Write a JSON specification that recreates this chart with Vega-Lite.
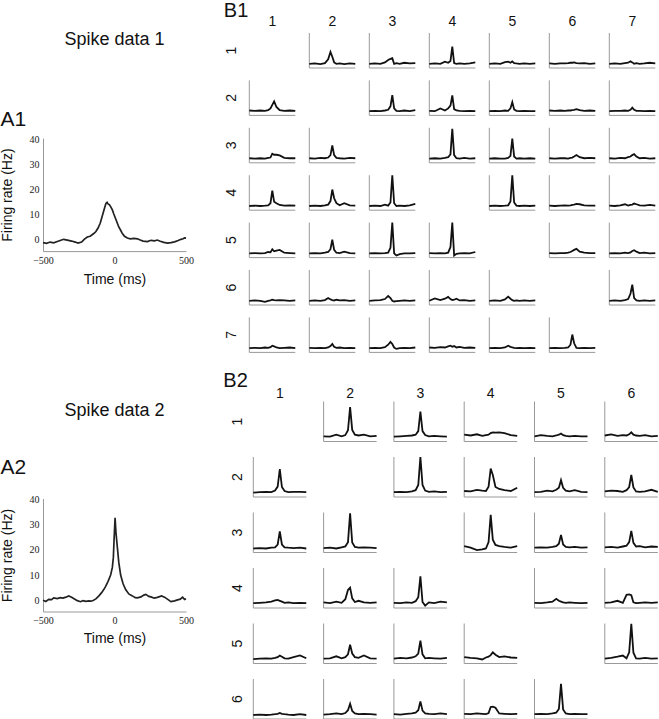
{
"$schema":"https://vega.github.io/schema/vega-lite/v6.json",
"padding":0,
"background":"white",
"config":{"view":{"stroke":null},"font":"Liberation Sans","title":{"fontWeight":"normal","fontSize":20,"color":"#111"},"header":{"labelFont":"Liberation Sans","labelFontSize":14,"labelColor":"#111"}},
"datasets":{
"a1":[{"t":-500,"y":-1.2},{"t":-475,"y":-1.5},{"t":-450,"y":-1.0},{"t":-425,"y":-1.3},{"t":-400,"y":-0.8},{"t":-375,"y":-0.3},{"t":-355,"y":0.1},{"t":-330,"y":-0.2},{"t":-300,"y":-0.6},{"t":-275,"y":-1.0},{"t":-255,"y":-1.4},{"t":-230,"y":-1.0},{"t":-210,"y":0.2},{"t":-190,"y":1.0},{"t":-170,"y":1.3},{"t":-145,"y":2.4},{"t":-130,"y":3.2},{"t":-115,"y":4.6},{"t":-100,"y":6.5},{"t":-90,"y":8.5},{"t":-80,"y":10.5},{"t":-70,"y":12.5},{"t":-60,"y":14.4},{"t":-52,"y":14.8},{"t":-45,"y":14.2},{"t":-35,"y":13.8},{"t":-25,"y":12.9},{"t":-15,"y":11.8},{"t":-5,"y":10.2},{"t":8,"y":8.3},{"t":20,"y":6.5},{"t":30,"y":5.0},{"t":43,"y":3.7},{"t":55,"y":2.4},{"t":70,"y":1.3},{"t":90,"y":0.6},{"t":110,"y":0.3},{"t":137,"y":0.5},{"t":160,"y":0.3},{"t":180,"y":-0.2},{"t":200,"y":-0.6},{"t":230,"y":-0.8},{"t":255,"y":-0.3},{"t":280,"y":-0.5},{"t":300,"y":-0.2},{"t":320,"y":-0.7},{"t":345,"y":-1.1},{"t":371,"y":-1.4},{"t":395,"y":-1.2},{"t":420,"y":-0.9},{"t":445,"y":-0.4},{"t":465,"y":0.1},{"t":480,"y":0.3},{"t":490,"y":0.7},{"t":500,"y":0.6}],
"a2":[{"t":-500,"y":0},{"t":-480,"y":-0.5},{"t":-460,"y":0.3},{"t":-440,"y":0.2},{"t":-425,"y":0.9},{"t":-400,"y":0.6},{"t":-380,"y":1.0},{"t":-360,"y":0.8},{"t":-340,"y":1.2},{"t":-320,"y":1.7},{"t":-300,"y":1.2},{"t":-280,"y":0.5},{"t":-260,"y":-0.2},{"t":-238,"y":-0.6},{"t":-220,"y":-0.2},{"t":-200,"y":-0.5},{"t":-180,"y":-0.3},{"t":-165,"y":-0.4},{"t":-150,"y":-0.1},{"t":-130,"y":0.5},{"t":-109,"y":1.7},{"t":-90,"y":3.0},{"t":-75,"y":4.2},{"t":-62,"y":5.5},{"t":-45,"y":7.5},{"t":-27,"y":10},{"t":-15,"y":13},{"t":-8,"y":17},{"t":-3,"y":24},{"t":4,"y":32.7},{"t":10,"y":27},{"t":20,"y":21},{"t":30,"y":15},{"t":43,"y":10},{"t":60,"y":6.5},{"t":78,"y":4.2},{"t":100,"y":2.5},{"t":125,"y":1.7},{"t":145,"y":1.0},{"t":160,"y":0.9},{"t":185,"y":1.3},{"t":205,"y":2.0},{"t":219,"y":2.3},{"t":240,"y":1.5},{"t":260,"y":1.2},{"t":277,"y":0.8},{"t":300,"y":1.1},{"t":329,"y":1.7},{"t":350,"y":1.2},{"t":375,"y":0.2},{"t":394,"y":-0.6},{"t":420,"y":-0.3},{"t":441,"y":0.1},{"t":460,"y":0.4},{"t":476,"y":1.2},{"t":490,"y":0.3},{"t":500,"y":0.6}],
"b1":[
{"r":1,"c":2,"t":-500,"y":1.2},{"r":1,"c":2,"t":-380,"y":1.3},{"r":1,"c":2,"t":-260,"y":1.1},{"r":1,"c":2,"t":-160,"y":1.4},{"r":1,"c":2,"t":-90,"y":2.5},{"r":1,"c":2,"t":-40,"y":4.6},{"r":1,"c":2,"t":0,"y":3.2},{"r":1,"c":2,"t":40,"y":1.6},{"r":1,"c":2,"t":90,"y":1.2},{"r":1,"c":2,"t":160,"y":1.3},{"r":1,"c":2,"t":260,"y":1.1},{"r":1,"c":2,"t":380,"y":1.3},{"r":1,"c":2,"t":500,"y":1.2},
{"r":1,"c":3,"t":-500,"y":1.2},{"r":1,"c":3,"t":-380,"y":1.3},{"r":1,"c":3,"t":-260,"y":1.2},{"r":1,"c":3,"t":-160,"y":1.6},{"r":1,"c":3,"t":-90,"y":2.3},{"r":1,"c":3,"t":-40,"y":2.6},{"r":1,"c":3,"t":0,"y":2.8},{"r":1,"c":3,"t":40,"y":1.2},{"r":1,"c":3,"t":90,"y":1.4},{"r":1,"c":3,"t":160,"y":1.2},{"r":1,"c":3,"t":260,"y":1.5},{"r":1,"c":3,"t":380,"y":1.3},{"r":1,"c":3,"t":500,"y":1.4},
{"r":1,"c":4,"t":-500,"y":1.2},{"r":1,"c":4,"t":-380,"y":1.3},{"r":1,"c":4,"t":-260,"y":1.2},{"r":1,"c":4,"t":-160,"y":1.8},{"r":1,"c":4,"t":-90,"y":1.5},{"r":1,"c":4,"t":-40,"y":2.0},{"r":1,"c":4,"t":0,"y":6.1},{"r":1,"c":4,"t":40,"y":1.4},{"r":1,"c":4,"t":90,"y":1.2},{"r":1,"c":4,"t":160,"y":1.3},{"r":1,"c":4,"t":260,"y":1.2},{"r":1,"c":4,"t":380,"y":1.3},{"r":1,"c":4,"t":500,"y":1.6},
{"r":1,"c":5,"t":-500,"y":1.2},{"r":1,"c":5,"t":-380,"y":1.3},{"r":1,"c":5,"t":-260,"y":1.2},{"r":1,"c":5,"t":-160,"y":1.7},{"r":1,"c":5,"t":-90,"y":1.8},{"r":1,"c":5,"t":-40,"y":1.5},{"r":1,"c":5,"t":0,"y":1.9},{"r":1,"c":5,"t":40,"y":1.4},{"r":1,"c":5,"t":90,"y":1.3},{"r":1,"c":5,"t":160,"y":1.2},{"r":1,"c":5,"t":260,"y":1.3},{"r":1,"c":5,"t":380,"y":1.2},{"r":1,"c":5,"t":500,"y":1.3},
{"r":1,"c":6,"t":-500,"y":1.3},{"r":1,"c":6,"t":-380,"y":1.2},{"r":1,"c":6,"t":-260,"y":1.3},{"r":1,"c":6,"t":-160,"y":1.3},{"r":1,"c":6,"t":-90,"y":1.4},{"r":1,"c":6,"t":-40,"y":1.5},{"r":1,"c":6,"t":0,"y":1.5},{"r":1,"c":6,"t":40,"y":1.6},{"r":1,"c":6,"t":90,"y":1.4},{"r":1,"c":6,"t":160,"y":1.3},{"r":1,"c":6,"t":260,"y":1.4},{"r":1,"c":6,"t":380,"y":1.2},{"r":1,"c":6,"t":500,"y":1.3},
{"r":1,"c":7,"t":-500,"y":1.2},{"r":1,"c":7,"t":-380,"y":1.3},{"r":1,"c":7,"t":-260,"y":1.2},{"r":1,"c":7,"t":-160,"y":1.4},{"r":1,"c":7,"t":-90,"y":1.5},{"r":1,"c":7,"t":-40,"y":1.9},{"r":1,"c":7,"t":0,"y":1.6},{"r":1,"c":7,"t":40,"y":1.2},{"r":1,"c":7,"t":90,"y":1.4},{"r":1,"c":7,"t":160,"y":1.2},{"r":1,"c":7,"t":260,"y":1.3},{"r":1,"c":7,"t":380,"y":1.5},{"r":1,"c":7,"t":500,"y":1.3},
{"r":2,"c":1,"t":-500,"y":1.4},{"r":2,"c":1,"t":-380,"y":1.3},{"r":2,"c":1,"t":-260,"y":1.4},{"r":2,"c":1,"t":-160,"y":1.3},{"r":2,"c":1,"t":-90,"y":1.5},{"r":2,"c":1,"t":-40,"y":2.0},{"r":2,"c":1,"t":0,"y":3.0},{"r":2,"c":1,"t":40,"y":4.0},{"r":2,"c":1,"t":90,"y":2.4},{"r":2,"c":1,"t":160,"y":1.5},{"r":2,"c":1,"t":260,"y":1.3},{"r":2,"c":1,"t":380,"y":1.4},{"r":2,"c":1,"t":500,"y":1.3},
{"r":2,"c":3,"t":-500,"y":1.2},{"r":2,"c":3,"t":-380,"y":1.3},{"r":2,"c":3,"t":-260,"y":1.2},{"r":2,"c":3,"t":-160,"y":1.4},{"r":2,"c":3,"t":-90,"y":1.6},{"r":2,"c":3,"t":-40,"y":2.6},{"r":2,"c":3,"t":0,"y":5.8},{"r":2,"c":3,"t":40,"y":2.0},{"r":2,"c":3,"t":90,"y":1.3},{"r":2,"c":3,"t":160,"y":1.2},{"r":2,"c":3,"t":260,"y":1.4},{"r":2,"c":3,"t":380,"y":1.2},{"r":2,"c":3,"t":500,"y":1.5},
{"r":2,"c":4,"t":-500,"y":1.3},{"r":2,"c":4,"t":-380,"y":1.2},{"r":2,"c":4,"t":-260,"y":2.0},{"r":2,"c":4,"t":-160,"y":1.4},{"r":2,"c":4,"t":-90,"y":2.0},{"r":2,"c":4,"t":-40,"y":2.8},{"r":2,"c":4,"t":0,"y":5.7},{"r":2,"c":4,"t":40,"y":1.8},{"r":2,"c":4,"t":90,"y":1.4},{"r":2,"c":4,"t":160,"y":1.3},{"r":2,"c":4,"t":260,"y":1.2},{"r":2,"c":4,"t":380,"y":1.3},{"r":2,"c":4,"t":500,"y":1.2},
{"r":2,"c":5,"t":-500,"y":1.2},{"r":2,"c":5,"t":-380,"y":1.3},{"r":2,"c":5,"t":-260,"y":1.2},{"r":2,"c":5,"t":-160,"y":1.4},{"r":2,"c":5,"t":-90,"y":1.3},{"r":2,"c":5,"t":-40,"y":2.0},{"r":2,"c":5,"t":0,"y":3.8},{"r":2,"c":5,"t":40,"y":1.7},{"r":2,"c":5,"t":90,"y":1.3},{"r":2,"c":5,"t":160,"y":1.2},{"r":2,"c":5,"t":260,"y":1.3},{"r":2,"c":5,"t":380,"y":1.2},{"r":2,"c":5,"t":500,"y":1.2},
{"r":2,"c":6,"t":-500,"y":1.4},{"r":2,"c":6,"t":-380,"y":1.3},{"r":2,"c":6,"t":-260,"y":1.4},{"r":2,"c":6,"t":-160,"y":1.3},{"r":2,"c":6,"t":-90,"y":1.4},{"r":2,"c":6,"t":-40,"y":1.4},{"r":2,"c":6,"t":0,"y":1.5},{"r":2,"c":6,"t":40,"y":1.6},{"r":2,"c":6,"t":90,"y":1.8},{"r":2,"c":6,"t":160,"y":1.5},{"r":2,"c":6,"t":260,"y":1.3},{"r":2,"c":6,"t":380,"y":1.4},{"r":2,"c":6,"t":500,"y":1.3},
{"r":2,"c":7,"t":-500,"y":1.2},{"r":2,"c":7,"t":-380,"y":1.3},{"r":2,"c":7,"t":-260,"y":1.3},{"r":2,"c":7,"t":-160,"y":1.4},{"r":2,"c":7,"t":-90,"y":1.3},{"r":2,"c":7,"t":-40,"y":1.6},{"r":2,"c":7,"t":0,"y":2.2},{"r":2,"c":7,"t":40,"y":1.6},{"r":2,"c":7,"t":90,"y":1.3},{"r":2,"c":7,"t":160,"y":1.3},{"r":2,"c":7,"t":260,"y":1.2},{"r":2,"c":7,"t":380,"y":1.3},{"r":2,"c":7,"t":500,"y":1.2},
{"r":3,"c":1,"t":-500,"y":1.3},{"r":3,"c":1,"t":-380,"y":1.2},{"r":3,"c":1,"t":-260,"y":1.3},{"r":3,"c":1,"t":-160,"y":1.2},{"r":3,"c":1,"t":-90,"y":1.4},{"r":3,"c":1,"t":-40,"y":1.5},{"r":3,"c":1,"t":0,"y":2.6},{"r":3,"c":1,"t":40,"y":2.3},{"r":3,"c":1,"t":90,"y":2.3},{"r":3,"c":1,"t":160,"y":2.1},{"r":3,"c":1,"t":260,"y":1.4},{"r":3,"c":1,"t":380,"y":1.3},{"r":3,"c":1,"t":500,"y":1.3},
{"r":3,"c":2,"t":-500,"y":1.3},{"r":3,"c":2,"t":-380,"y":1.2},{"r":3,"c":2,"t":-260,"y":1.4},{"r":3,"c":2,"t":-160,"y":1.3},{"r":3,"c":2,"t":-90,"y":1.5},{"r":3,"c":2,"t":-40,"y":2.2},{"r":3,"c":2,"t":0,"y":5.0},{"r":3,"c":2,"t":40,"y":2.2},{"r":3,"c":2,"t":90,"y":1.4},{"r":3,"c":2,"t":160,"y":1.3},{"r":3,"c":2,"t":260,"y":1.2},{"r":3,"c":2,"t":380,"y":1.4},{"r":3,"c":2,"t":500,"y":1.3},
{"r":3,"c":4,"t":-500,"y":1.2},{"r":3,"c":4,"t":-380,"y":1.3},{"r":3,"c":4,"t":-260,"y":1.2},{"r":3,"c":4,"t":-160,"y":1.4},{"r":3,"c":4,"t":-90,"y":1.6},{"r":3,"c":4,"t":-40,"y":2.4},{"r":3,"c":4,"t":0,"y":9.7},{"r":3,"c":4,"t":40,"y":2.2},{"r":3,"c":4,"t":90,"y":1.3},{"r":3,"c":4,"t":160,"y":1.2},{"r":3,"c":4,"t":260,"y":1.4},{"r":3,"c":4,"t":380,"y":1.2},{"r":3,"c":4,"t":500,"y":1.3},
{"r":3,"c":5,"t":-500,"y":1.2},{"r":3,"c":5,"t":-380,"y":1.3},{"r":3,"c":5,"t":-260,"y":1.2},{"r":3,"c":5,"t":-160,"y":1.2},{"r":3,"c":5,"t":-90,"y":1.4},{"r":3,"c":5,"t":-40,"y":2.0},{"r":3,"c":5,"t":0,"y":6.9},{"r":3,"c":5,"t":40,"y":1.8},{"r":3,"c":5,"t":90,"y":1.2},{"r":3,"c":5,"t":160,"y":1.3},{"r":3,"c":5,"t":260,"y":1.2},{"r":3,"c":5,"t":380,"y":1.3},{"r":3,"c":5,"t":500,"y":1.2},
{"r":3,"c":6,"t":-500,"y":1.3},{"r":3,"c":6,"t":-380,"y":1.2},{"r":3,"c":6,"t":-260,"y":1.3},{"r":3,"c":6,"t":-160,"y":1.3},{"r":3,"c":6,"t":-90,"y":1.2},{"r":3,"c":6,"t":-40,"y":1.4},{"r":3,"c":6,"t":0,"y":1.5},{"r":3,"c":6,"t":40,"y":1.8},{"r":3,"c":6,"t":90,"y":2.2},{"r":3,"c":6,"t":160,"y":1.6},{"r":3,"c":6,"t":260,"y":1.3},{"r":3,"c":6,"t":380,"y":1.4},{"r":3,"c":6,"t":500,"y":1.3},
{"r":3,"c":7,"t":-500,"y":1.3},{"r":3,"c":7,"t":-380,"y":1.2},{"r":3,"c":7,"t":-260,"y":1.4},{"r":3,"c":7,"t":-160,"y":1.3},{"r":3,"c":7,"t":-90,"y":1.6},{"r":3,"c":7,"t":-40,"y":1.8},{"r":3,"c":7,"t":0,"y":2.2},{"r":3,"c":7,"t":40,"y":2.5},{"r":3,"c":7,"t":90,"y":1.8},{"r":3,"c":7,"t":160,"y":1.3},{"r":3,"c":7,"t":260,"y":1.4},{"r":3,"c":7,"t":380,"y":1.2},{"r":3,"c":7,"t":500,"y":1.3},
{"r":4,"c":1,"t":-500,"y":1.2},{"r":4,"c":1,"t":-380,"y":1.3},{"r":4,"c":1,"t":-260,"y":1.2},{"r":4,"c":1,"t":-160,"y":1.3},{"r":4,"c":1,"t":-90,"y":1.4},{"r":4,"c":1,"t":-40,"y":2.0},{"r":4,"c":1,"t":0,"y":5.6},{"r":4,"c":1,"t":40,"y":2.4},{"r":4,"c":1,"t":90,"y":2.0},{"r":4,"c":1,"t":160,"y":1.5},{"r":4,"c":1,"t":260,"y":1.3},{"r":4,"c":1,"t":380,"y":1.4},{"r":4,"c":1,"t":500,"y":1.3},
{"r":4,"c":2,"t":-500,"y":1.2},{"r":4,"c":2,"t":-380,"y":1.3},{"r":4,"c":2,"t":-260,"y":1.2},{"r":4,"c":2,"t":-160,"y":1.4},{"r":4,"c":2,"t":-90,"y":1.6},{"r":4,"c":2,"t":-40,"y":2.6},{"r":4,"c":2,"t":0,"y":5.9},{"r":4,"c":2,"t":40,"y":3.4},{"r":4,"c":2,"t":90,"y":2.0},{"r":4,"c":2,"t":160,"y":1.4},{"r":4,"c":2,"t":260,"y":2.0},{"r":4,"c":2,"t":380,"y":1.4},{"r":4,"c":2,"t":500,"y":1.3},
{"r":4,"c":3,"t":-500,"y":1.2},{"r":4,"c":3,"t":-380,"y":1.3},{"r":4,"c":3,"t":-260,"y":1.2},{"r":4,"c":3,"t":-160,"y":1.6},{"r":4,"c":3,"t":-90,"y":1.3},{"r":4,"c":3,"t":-40,"y":2.2},{"r":4,"c":3,"t":0,"y":10},{"r":4,"c":3,"t":40,"y":2.0},{"r":4,"c":3,"t":90,"y":1.2},{"r":4,"c":3,"t":160,"y":1.3},{"r":4,"c":3,"t":260,"y":1.2},{"r":4,"c":3,"t":380,"y":1.4},{"r":4,"c":3,"t":500,"y":1.8},
{"r":4,"c":5,"t":-500,"y":1.2},{"r":4,"c":5,"t":-380,"y":1.3},{"r":4,"c":5,"t":-260,"y":1.2},{"r":4,"c":5,"t":-160,"y":1.3},{"r":4,"c":5,"t":-90,"y":1.4},{"r":4,"c":5,"t":-40,"y":2.5},{"r":4,"c":5,"t":0,"y":10},{"r":4,"c":5,"t":40,"y":2.2},{"r":4,"c":5,"t":90,"y":1.3},{"r":4,"c":5,"t":160,"y":1.2},{"r":4,"c":5,"t":260,"y":1.3},{"r":4,"c":5,"t":380,"y":1.2},{"r":4,"c":5,"t":500,"y":1.3},
{"r":4,"c":6,"t":-500,"y":1.3},{"r":4,"c":6,"t":-380,"y":1.2},{"r":4,"c":6,"t":-260,"y":1.3},{"r":4,"c":6,"t":-160,"y":1.4},{"r":4,"c":6,"t":-90,"y":1.3},{"r":4,"c":6,"t":-40,"y":1.4},{"r":4,"c":6,"t":0,"y":1.5},{"r":4,"c":6,"t":40,"y":1.6},{"r":4,"c":6,"t":90,"y":1.8},{"r":4,"c":6,"t":160,"y":1.7},{"r":4,"c":6,"t":260,"y":1.4},{"r":4,"c":6,"t":380,"y":1.3},{"r":4,"c":6,"t":500,"y":1.3},
{"r":4,"c":7,"t":-500,"y":1.3},{"r":4,"c":7,"t":-380,"y":1.2},{"r":4,"c":7,"t":-260,"y":1.4},{"r":4,"c":7,"t":-160,"y":1.7},{"r":4,"c":7,"t":-90,"y":1.3},{"r":4,"c":7,"t":-40,"y":1.5},{"r":4,"c":7,"t":0,"y":1.6},{"r":4,"c":7,"t":40,"y":1.9},{"r":4,"c":7,"t":90,"y":1.7},{"r":4,"c":7,"t":160,"y":1.4},{"r":4,"c":7,"t":260,"y":1.3},{"r":4,"c":7,"t":380,"y":1.5},{"r":4,"c":7,"t":500,"y":1.3},
{"r":5,"c":1,"t":-500,"y":1.2},{"r":5,"c":1,"t":-380,"y":1.3},{"r":5,"c":1,"t":-260,"y":1.2},{"r":5,"c":1,"t":-160,"y":1.3},{"r":5,"c":1,"t":-90,"y":1.6},{"r":5,"c":1,"t":-40,"y":1.5},{"r":5,"c":1,"t":0,"y":2.4},{"r":5,"c":1,"t":40,"y":1.8},{"r":5,"c":1,"t":90,"y":2.0},{"r":5,"c":1,"t":160,"y":2.2},{"r":5,"c":1,"t":260,"y":1.4},{"r":5,"c":1,"t":380,"y":1.3},{"r":5,"c":1,"t":500,"y":1.2},
{"r":5,"c":2,"t":-500,"y":1.2},{"r":5,"c":2,"t":-380,"y":1.3},{"r":5,"c":2,"t":-260,"y":1.2},{"r":5,"c":2,"t":-160,"y":1.4},{"r":5,"c":2,"t":-90,"y":1.6},{"r":5,"c":2,"t":-40,"y":2.4},{"r":5,"c":2,"t":0,"y":5.1},{"r":5,"c":2,"t":40,"y":2.2},{"r":5,"c":2,"t":90,"y":1.4},{"r":5,"c":2,"t":160,"y":1.3},{"r":5,"c":2,"t":260,"y":1.7},{"r":5,"c":2,"t":380,"y":1.3},{"r":5,"c":2,"t":500,"y":1.2},
{"r":5,"c":3,"t":-500,"y":1.2},{"r":5,"c":3,"t":-380,"y":1.3},{"r":5,"c":3,"t":-260,"y":1.2},{"r":5,"c":3,"t":-160,"y":1.3},{"r":5,"c":3,"t":-90,"y":1.4},{"r":5,"c":3,"t":-40,"y":2.8},{"r":5,"c":3,"t":0,"y":10},{"r":5,"c":3,"t":40,"y":1.2},{"r":5,"c":3,"t":90,"y":0.6},{"r":5,"c":3,"t":160,"y":1.0},{"r":5,"c":3,"t":260,"y":1.2},{"r":5,"c":3,"t":380,"y":1.2},{"r":5,"c":3,"t":500,"y":1.3},
{"r":5,"c":4,"t":-500,"y":1.3},{"r":5,"c":4,"t":-380,"y":1.2},{"r":5,"c":4,"t":-260,"y":1.3},{"r":5,"c":4,"t":-160,"y":1.2},{"r":5,"c":4,"t":-90,"y":1.4},{"r":5,"c":4,"t":-40,"y":3.0},{"r":5,"c":4,"t":0,"y":10},{"r":5,"c":4,"t":40,"y":0.6},{"r":5,"c":4,"t":90,"y":1.1},{"r":5,"c":4,"t":160,"y":1.2},{"r":5,"c":4,"t":260,"y":1.3},{"r":5,"c":4,"t":380,"y":1.2},{"r":5,"c":4,"t":500,"y":1.6},
{"r":5,"c":6,"t":-500,"y":1.3},{"r":5,"c":6,"t":-380,"y":1.2},{"r":5,"c":6,"t":-260,"y":1.3},{"r":5,"c":6,"t":-160,"y":1.3},{"r":5,"c":6,"t":-90,"y":1.4},{"r":5,"c":6,"t":-40,"y":1.6},{"r":5,"c":6,"t":0,"y":1.9},{"r":5,"c":6,"t":40,"y":2.2},{"r":5,"c":6,"t":90,"y":2.5},{"r":5,"c":6,"t":160,"y":1.7},{"r":5,"c":6,"t":260,"y":1.4},{"r":5,"c":6,"t":380,"y":1.3},{"r":5,"c":6,"t":500,"y":1.3},
{"r":5,"c":7,"t":-500,"y":1.2},{"r":5,"c":7,"t":-380,"y":1.3},{"r":5,"c":7,"t":-260,"y":1.2},{"r":5,"c":7,"t":-160,"y":1.4},{"r":5,"c":7,"t":-90,"y":1.3},{"r":5,"c":7,"t":-40,"y":1.5},{"r":5,"c":7,"t":0,"y":1.9},{"r":5,"c":7,"t":40,"y":2.1},{"r":5,"c":7,"t":90,"y":1.7},{"r":5,"c":7,"t":160,"y":1.3},{"r":5,"c":7,"t":260,"y":1.4},{"r":5,"c":7,"t":380,"y":1.2},{"r":5,"c":7,"t":500,"y":1.3},
{"r":6,"c":1,"t":-500,"y":1.2},{"r":6,"c":1,"t":-380,"y":1.3},{"r":6,"c":1,"t":-260,"y":1.2},{"r":6,"c":1,"t":-160,"y":0.9},{"r":6,"c":1,"t":-90,"y":1.2},{"r":6,"c":1,"t":-40,"y":1.3},{"r":6,"c":1,"t":0,"y":1.5},{"r":6,"c":1,"t":40,"y":1.4},{"r":6,"c":1,"t":90,"y":1.3},{"r":6,"c":1,"t":160,"y":1.4},{"r":6,"c":1,"t":260,"y":1.3},{"r":6,"c":1,"t":380,"y":1.2},{"r":6,"c":1,"t":500,"y":1.3},
{"r":6,"c":2,"t":-500,"y":1.2},{"r":6,"c":2,"t":-380,"y":1.3},{"r":6,"c":2,"t":-260,"y":1.2},{"r":6,"c":2,"t":-160,"y":1.4},{"r":6,"c":2,"t":-90,"y":2.0},{"r":6,"c":2,"t":-40,"y":1.6},{"r":6,"c":2,"t":0,"y":1.4},{"r":6,"c":2,"t":40,"y":1.3},{"r":6,"c":2,"t":90,"y":1.5},{"r":6,"c":2,"t":160,"y":1.3},{"r":6,"c":2,"t":260,"y":1.4},{"r":6,"c":2,"t":380,"y":1.2},{"r":6,"c":2,"t":500,"y":1.3},
{"r":6,"c":3,"t":-500,"y":1.2},{"r":6,"c":3,"t":-380,"y":1.3},{"r":6,"c":3,"t":-260,"y":1.4},{"r":6,"c":3,"t":-160,"y":1.7},{"r":6,"c":3,"t":-90,"y":2.6},{"r":6,"c":3,"t":-40,"y":2.0},{"r":6,"c":3,"t":0,"y":1.2},{"r":6,"c":3,"t":40,"y":1.0},{"r":6,"c":3,"t":90,"y":1.1},{"r":6,"c":3,"t":160,"y":1.2},{"r":6,"c":3,"t":260,"y":1.3},{"r":6,"c":3,"t":380,"y":1.2},{"r":6,"c":3,"t":500,"y":1.3},
{"r":6,"c":4,"t":-500,"y":1.2},{"r":6,"c":4,"t":-380,"y":1.9},{"r":6,"c":4,"t":-260,"y":1.4},{"r":6,"c":4,"t":-160,"y":1.8},{"r":6,"c":4,"t":-90,"y":2.3},{"r":6,"c":4,"t":-40,"y":1.7},{"r":6,"c":4,"t":0,"y":1.4},{"r":6,"c":4,"t":40,"y":1.5},{"r":6,"c":4,"t":90,"y":1.8},{"r":6,"c":4,"t":160,"y":1.3},{"r":6,"c":4,"t":260,"y":1.4},{"r":6,"c":4,"t":380,"y":1.2},{"r":6,"c":4,"t":500,"y":1.3},
{"r":6,"c":5,"t":-500,"y":1.2},{"r":6,"c":5,"t":-380,"y":1.3},{"r":6,"c":5,"t":-260,"y":1.2},{"r":6,"c":5,"t":-160,"y":1.6},{"r":6,"c":5,"t":-90,"y":2.4},{"r":6,"c":5,"t":-40,"y":1.8},{"r":6,"c":5,"t":0,"y":1.4},{"r":6,"c":5,"t":40,"y":1.2},{"r":6,"c":5,"t":90,"y":1.3},{"r":6,"c":5,"t":160,"y":1.2},{"r":6,"c":5,"t":260,"y":1.3},{"r":6,"c":5,"t":380,"y":1.2},{"r":6,"c":5,"t":500,"y":1.3},
{"r":6,"c":7,"t":-500,"y":1.2},{"r":6,"c":7,"t":-380,"y":1.3},{"r":6,"c":7,"t":-260,"y":1.2},{"r":6,"c":7,"t":-160,"y":1.4},{"r":6,"c":7,"t":-90,"y":1.7},{"r":6,"c":7,"t":-40,"y":3.2},{"r":6,"c":7,"t":0,"y":5.8},{"r":6,"c":7,"t":40,"y":2.0},{"r":6,"c":7,"t":90,"y":1.3},{"r":6,"c":7,"t":160,"y":1.2},{"r":6,"c":7,"t":260,"y":1.3},{"r":6,"c":7,"t":380,"y":1.2},{"r":6,"c":7,"t":500,"y":1.3},
{"r":7,"c":1,"t":-500,"y":1.2},{"r":7,"c":1,"t":-380,"y":1.3},{"r":7,"c":1,"t":-260,"y":1.2},{"r":7,"c":1,"t":-160,"y":1.4},{"r":7,"c":1,"t":-90,"y":1.3},{"r":7,"c":1,"t":-40,"y":1.5},{"r":7,"c":1,"t":0,"y":1.9},{"r":7,"c":1,"t":40,"y":1.7},{"r":7,"c":1,"t":90,"y":1.4},{"r":7,"c":1,"t":160,"y":1.2},{"r":7,"c":1,"t":260,"y":1.3},{"r":7,"c":1,"t":380,"y":1.4},{"r":7,"c":1,"t":500,"y":1.2},
{"r":7,"c":2,"t":-500,"y":1.3},{"r":7,"c":2,"t":-380,"y":1.2},{"r":7,"c":2,"t":-260,"y":1.3},{"r":7,"c":2,"t":-160,"y":1.2},{"r":7,"c":2,"t":-90,"y":1.4},{"r":7,"c":2,"t":-40,"y":1.8},{"r":7,"c":2,"t":0,"y":2.4},{"r":7,"c":2,"t":40,"y":1.6},{"r":7,"c":2,"t":90,"y":1.3},{"r":7,"c":2,"t":160,"y":1.4},{"r":7,"c":2,"t":260,"y":1.2},{"r":7,"c":2,"t":380,"y":1.3},{"r":7,"c":2,"t":500,"y":1.2},
{"r":7,"c":3,"t":-500,"y":1.2},{"r":7,"c":3,"t":-380,"y":1.3},{"r":7,"c":3,"t":-260,"y":1.2},{"r":7,"c":3,"t":-160,"y":1.5},{"r":7,"c":3,"t":-90,"y":2.2},{"r":7,"c":3,"t":-40,"y":3.0},{"r":7,"c":3,"t":0,"y":2.4},{"r":7,"c":3,"t":40,"y":1.4},{"r":7,"c":3,"t":90,"y":1.0},{"r":7,"c":3,"t":160,"y":1.2},{"r":7,"c":3,"t":260,"y":1.3},{"r":7,"c":3,"t":380,"y":1.2},{"r":7,"c":3,"t":500,"y":1.4},
{"r":7,"c":4,"t":-500,"y":1.4},{"r":7,"c":4,"t":-380,"y":1.3},{"r":7,"c":4,"t":-260,"y":1.5},{"r":7,"c":4,"t":-160,"y":1.4},{"r":7,"c":4,"t":-90,"y":1.7},{"r":7,"c":4,"t":-40,"y":1.9},{"r":7,"c":4,"t":0,"y":1.6},{"r":7,"c":4,"t":40,"y":1.8},{"r":7,"c":4,"t":90,"y":1.4},{"r":7,"c":4,"t":160,"y":1.6},{"r":7,"c":4,"t":260,"y":1.3},{"r":7,"c":4,"t":380,"y":1.4},{"r":7,"c":4,"t":500,"y":1.3},
{"r":7,"c":5,"t":-500,"y":1.2},{"r":7,"c":5,"t":-380,"y":1.3},{"r":7,"c":5,"t":-260,"y":1.2},{"r":7,"c":5,"t":-160,"y":1.4},{"r":7,"c":5,"t":-90,"y":1.9},{"r":7,"c":5,"t":-40,"y":1.6},{"r":7,"c":5,"t":0,"y":1.4},{"r":7,"c":5,"t":40,"y":1.3},{"r":7,"c":5,"t":90,"y":1.2},{"r":7,"c":5,"t":160,"y":1.3},{"r":7,"c":5,"t":260,"y":1.2},{"r":7,"c":5,"t":380,"y":1.3},{"r":7,"c":5,"t":500,"y":1.2},
{"r":7,"c":6,"t":-500,"y":1.2},{"r":7,"c":6,"t":-380,"y":1.3},{"r":7,"c":6,"t":-260,"y":1.2},{"r":7,"c":6,"t":-160,"y":1.3},{"r":7,"c":6,"t":-90,"y":1.4},{"r":7,"c":6,"t":-40,"y":2.2},{"r":7,"c":6,"t":0,"y":5.1},{"r":7,"c":6,"t":40,"y":2.6},{"r":7,"c":6,"t":90,"y":1.3},{"r":7,"c":6,"t":160,"y":1.2},{"r":7,"c":6,"t":260,"y":1.3},{"r":7,"c":6,"t":380,"y":1.2},{"r":7,"c":6,"t":500,"y":1.3}
],
"b2":[
{"r":1,"c":2,"t":-500,"y":1.3},{"r":1,"c":2,"t":-380,"y":1.2},{"r":1,"c":2,"t":-260,"y":1.7},{"r":1,"c":2,"t":-160,"y":1.3},{"r":1,"c":2,"t":-90,"y":1.6},{"r":1,"c":2,"t":-40,"y":2.8},{"r":1,"c":2,"t":0,"y":8.6},{"r":1,"c":2,"t":40,"y":2.9},{"r":1,"c":2,"t":90,"y":1.7},{"r":1,"c":2,"t":160,"y":1.5},{"r":1,"c":2,"t":260,"y":1.7},{"r":1,"c":2,"t":380,"y":1.3},{"r":1,"c":2,"t":500,"y":1.4},
{"r":1,"c":3,"t":-500,"y":1.2},{"r":1,"c":3,"t":-380,"y":1.3},{"r":1,"c":3,"t":-260,"y":1.4},{"r":1,"c":3,"t":-160,"y":1.5},{"r":1,"c":3,"t":-90,"y":1.7},{"r":1,"c":3,"t":-40,"y":2.6},{"r":1,"c":3,"t":0,"y":7.5},{"r":1,"c":3,"t":40,"y":2.6},{"r":1,"c":3,"t":90,"y":1.6},{"r":1,"c":3,"t":160,"y":1.3},{"r":1,"c":3,"t":260,"y":1.4},{"r":1,"c":3,"t":380,"y":1.3},{"r":1,"c":3,"t":500,"y":1.2},
{"r":1,"c":4,"t":-500,"y":1.7},{"r":1,"c":4,"t":-380,"y":1.5},{"r":1,"c":4,"t":-260,"y":1.8},{"r":1,"c":4,"t":-160,"y":1.4},{"r":1,"c":4,"t":-90,"y":1.6},{"r":1,"c":4,"t":-40,"y":1.7},{"r":1,"c":4,"t":0,"y":2.1},{"r":1,"c":4,"t":40,"y":2.3},{"r":1,"c":4,"t":90,"y":2.2},{"r":1,"c":4,"t":160,"y":2.3},{"r":1,"c":4,"t":260,"y":2.1},{"r":1,"c":4,"t":380,"y":1.6},{"r":1,"c":4,"t":500,"y":1.4},
{"r":1,"c":5,"t":-500,"y":1.3},{"r":1,"c":5,"t":-380,"y":1.6},{"r":1,"c":5,"t":-260,"y":1.4},{"r":1,"c":5,"t":-160,"y":1.3},{"r":1,"c":5,"t":-90,"y":1.5},{"r":1,"c":5,"t":-40,"y":1.7},{"r":1,"c":5,"t":0,"y":2.0},{"r":1,"c":5,"t":40,"y":1.6},{"r":1,"c":5,"t":90,"y":1.4},{"r":1,"c":5,"t":160,"y":1.3},{"r":1,"c":5,"t":260,"y":1.4},{"r":1,"c":5,"t":380,"y":1.3},{"r":1,"c":5,"t":500,"y":1.3},
{"r":1,"c":6,"t":-500,"y":1.5},{"r":1,"c":6,"t":-380,"y":1.8},{"r":1,"c":6,"t":-260,"y":1.4},{"r":1,"c":6,"t":-160,"y":1.6},{"r":1,"c":6,"t":-90,"y":1.5},{"r":1,"c":6,"t":-40,"y":1.8},{"r":1,"c":6,"t":0,"y":2.3},{"r":1,"c":6,"t":40,"y":1.7},{"r":1,"c":6,"t":90,"y":1.5},{"r":1,"c":6,"t":160,"y":1.4},{"r":1,"c":6,"t":260,"y":1.6},{"r":1,"c":6,"t":380,"y":1.3},{"r":1,"c":6,"t":500,"y":1.4},
{"r":2,"c":1,"t":-500,"y":1.1},{"r":2,"c":1,"t":-380,"y":1.2},{"r":2,"c":1,"t":-260,"y":1.3},{"r":2,"c":1,"t":-160,"y":1.2},{"r":2,"c":1,"t":-90,"y":1.6},{"r":2,"c":1,"t":-40,"y":2.6},{"r":2,"c":1,"t":0,"y":7.0},{"r":2,"c":1,"t":40,"y":2.5},{"r":2,"c":1,"t":90,"y":1.5},{"r":2,"c":1,"t":160,"y":1.2},{"r":2,"c":1,"t":260,"y":1.3},{"r":2,"c":1,"t":380,"y":1.3},{"r":2,"c":1,"t":500,"y":1.2},
{"r":2,"c":3,"t":-500,"y":1.2},{"r":2,"c":3,"t":-380,"y":1.3},{"r":2,"c":3,"t":-260,"y":1.2},{"r":2,"c":3,"t":-160,"y":1.4},{"r":2,"c":3,"t":-90,"y":1.7},{"r":2,"c":3,"t":-40,"y":3.0},{"r":2,"c":3,"t":0,"y":10},{"r":2,"c":3,"t":40,"y":3.0},{"r":2,"c":3,"t":90,"y":1.6},{"r":2,"c":3,"t":160,"y":1.3},{"r":2,"c":3,"t":260,"y":1.4},{"r":2,"c":3,"t":380,"y":1.2},{"r":2,"c":3,"t":500,"y":1.3},
{"r":2,"c":4,"t":-500,"y":1.5},{"r":2,"c":4,"t":-380,"y":1.4},{"r":2,"c":4,"t":-260,"y":1.8},{"r":2,"c":4,"t":-160,"y":1.6},{"r":2,"c":4,"t":-90,"y":1.5},{"r":2,"c":4,"t":-40,"y":2.6},{"r":2,"c":4,"t":0,"y":7.1},{"r":2,"c":4,"t":40,"y":5.5},{"r":2,"c":4,"t":90,"y":2.5},{"r":2,"c":4,"t":160,"y":2.0},{"r":2,"c":4,"t":260,"y":1.7},{"r":2,"c":4,"t":380,"y":1.5},{"r":2,"c":4,"t":500,"y":2.3},
{"r":2,"c":5,"t":-500,"y":1.2},{"r":2,"c":5,"t":-380,"y":1.3},{"r":2,"c":5,"t":-260,"y":1.6},{"r":2,"c":5,"t":-160,"y":1.4},{"r":2,"c":5,"t":-90,"y":1.8},{"r":2,"c":5,"t":-40,"y":2.3},{"r":2,"c":5,"t":0,"y":4.2},{"r":2,"c":5,"t":40,"y":2.3},{"r":2,"c":5,"t":90,"y":1.6},{"r":2,"c":5,"t":160,"y":1.4},{"r":2,"c":5,"t":260,"y":1.7},{"r":2,"c":5,"t":380,"y":1.3},{"r":2,"c":5,"t":500,"y":1.2},
{"r":2,"c":6,"t":-500,"y":1.4},{"r":2,"c":6,"t":-380,"y":1.6},{"r":2,"c":6,"t":-260,"y":1.5},{"r":2,"c":6,"t":-160,"y":1.3},{"r":2,"c":6,"t":-90,"y":1.7},{"r":2,"c":6,"t":-40,"y":2.5},{"r":2,"c":6,"t":0,"y":5.5},{"r":2,"c":6,"t":40,"y":2.4},{"r":2,"c":6,"t":90,"y":1.4},{"r":2,"c":6,"t":160,"y":1.3},{"r":2,"c":6,"t":260,"y":1.4},{"r":2,"c":6,"t":380,"y":1.8},{"r":2,"c":6,"t":500,"y":1.3},
{"r":3,"c":1,"t":-500,"y":1.0},{"r":3,"c":1,"t":-380,"y":1.1},{"r":3,"c":1,"t":-260,"y":1.0},{"r":3,"c":1,"t":-160,"y":1.2},{"r":3,"c":1,"t":-90,"y":1.3},{"r":3,"c":1,"t":-40,"y":2.0},{"r":3,"c":1,"t":0,"y":5.3},{"r":3,"c":1,"t":40,"y":2.0},{"r":3,"c":1,"t":90,"y":1.3},{"r":3,"c":1,"t":160,"y":1.2},{"r":3,"c":1,"t":260,"y":1.1},{"r":3,"c":1,"t":380,"y":1.2},{"r":3,"c":1,"t":500,"y":1.0},
{"r":3,"c":2,"t":-500,"y":1.1},{"r":3,"c":2,"t":-380,"y":1.2},{"r":3,"c":2,"t":-260,"y":1.0},{"r":3,"c":2,"t":-160,"y":1.3},{"r":3,"c":2,"t":-90,"y":1.5},{"r":3,"c":2,"t":-40,"y":2.6},{"r":3,"c":2,"t":0,"y":9.8},{"r":3,"c":2,"t":40,"y":2.5},{"r":3,"c":2,"t":90,"y":1.4},{"r":3,"c":2,"t":160,"y":1.2},{"r":3,"c":2,"t":260,"y":1.3},{"r":3,"c":2,"t":380,"y":1.2},{"r":3,"c":2,"t":500,"y":1.1},
{"r":3,"c":4,"t":-500,"y":1.6},{"r":3,"c":4,"t":-380,"y":1.2},{"r":3,"c":4,"t":-260,"y":0.6},{"r":3,"c":4,"t":-160,"y":0.8},{"r":3,"c":4,"t":-90,"y":1.0},{"r":3,"c":4,"t":-40,"y":2.6},{"r":3,"c":4,"t":0,"y":9.4},{"r":3,"c":4,"t":40,"y":3.2},{"r":3,"c":4,"t":90,"y":1.9},{"r":3,"c":4,"t":160,"y":1.6},{"r":3,"c":4,"t":260,"y":1.4},{"r":3,"c":4,"t":380,"y":1.2},{"r":3,"c":4,"t":500,"y":1.6},
{"r":3,"c":5,"t":-500,"y":1.2},{"r":3,"c":5,"t":-380,"y":1.3},{"r":3,"c":5,"t":-260,"y":1.2},{"r":3,"c":5,"t":-160,"y":1.4},{"r":3,"c":5,"t":-90,"y":1.6},{"r":3,"c":5,"t":-40,"y":2.2},{"r":3,"c":5,"t":0,"y":4.4},{"r":3,"c":5,"t":40,"y":2.0},{"r":3,"c":5,"t":90,"y":1.4},{"r":3,"c":5,"t":160,"y":1.3},{"r":3,"c":5,"t":260,"y":1.4},{"r":3,"c":5,"t":380,"y":1.2},{"r":3,"c":5,"t":500,"y":1.3},
{"r":3,"c":6,"t":-500,"y":1.3},{"r":3,"c":6,"t":-380,"y":1.4},{"r":3,"c":6,"t":-260,"y":1.2},{"r":3,"c":6,"t":-160,"y":1.5},{"r":3,"c":6,"t":-90,"y":1.7},{"r":3,"c":6,"t":-40,"y":2.6},{"r":3,"c":6,"t":0,"y":5.4},{"r":3,"c":6,"t":40,"y":2.4},{"r":3,"c":6,"t":90,"y":1.5},{"r":3,"c":6,"t":160,"y":1.6},{"r":3,"c":6,"t":260,"y":1.3},{"r":3,"c":6,"t":380,"y":1.5},{"r":3,"c":6,"t":500,"y":1.4},
{"r":4,"c":1,"t":-500,"y":1.2},{"r":4,"c":1,"t":-380,"y":1.3},{"r":4,"c":1,"t":-260,"y":1.4},{"r":4,"c":1,"t":-160,"y":1.6},{"r":4,"c":1,"t":-90,"y":1.9},{"r":4,"c":1,"t":-40,"y":2.0},{"r":4,"c":1,"t":0,"y":1.8},{"r":4,"c":1,"t":40,"y":1.6},{"r":4,"c":1,"t":90,"y":1.3},{"r":4,"c":1,"t":160,"y":1.4},{"r":4,"c":1,"t":260,"y":1.2},{"r":4,"c":1,"t":380,"y":1.3},{"r":4,"c":1,"t":500,"y":1.2},
{"r":4,"c":2,"t":-500,"y":1.4},{"r":4,"c":2,"t":-380,"y":1.2},{"r":4,"c":2,"t":-260,"y":1.6},{"r":4,"c":2,"t":-160,"y":1.3},{"r":4,"c":2,"t":-90,"y":2.2},{"r":4,"c":2,"t":-40,"y":4.5},{"r":4,"c":2,"t":0,"y":5.1},{"r":4,"c":2,"t":40,"y":2.4},{"r":4,"c":2,"t":90,"y":1.5},{"r":4,"c":2,"t":160,"y":1.8},{"r":4,"c":2,"t":260,"y":1.4},{"r":4,"c":2,"t":380,"y":1.3},{"r":4,"c":2,"t":500,"y":1.4},
{"r":4,"c":3,"t":-500,"y":1.3},{"r":4,"c":3,"t":-380,"y":1.2},{"r":4,"c":3,"t":-260,"y":1.4},{"r":4,"c":3,"t":-160,"y":1.3},{"r":4,"c":3,"t":-90,"y":1.7},{"r":4,"c":3,"t":-40,"y":2.7},{"r":4,"c":3,"t":0,"y":7.9},{"r":4,"c":3,"t":40,"y":1.5},{"r":4,"c":3,"t":90,"y":0.6},{"r":4,"c":3,"t":160,"y":1.4},{"r":4,"c":3,"t":260,"y":1.2},{"r":4,"c":3,"t":380,"y":1.6},{"r":4,"c":3,"t":500,"y":1.4},
{"r":4,"c":5,"t":-500,"y":1.3},{"r":4,"c":5,"t":-380,"y":1.2},{"r":4,"c":5,"t":-260,"y":1.4},{"r":4,"c":5,"t":-160,"y":1.6},{"r":4,"c":5,"t":-90,"y":2.3},{"r":4,"c":5,"t":-40,"y":1.8},{"r":4,"c":5,"t":0,"y":1.6},{"r":4,"c":5,"t":40,"y":1.4},{"r":4,"c":5,"t":90,"y":1.3},{"r":4,"c":5,"t":160,"y":1.4},{"r":4,"c":5,"t":260,"y":1.3},{"r":4,"c":5,"t":380,"y":1.2},{"r":4,"c":5,"t":500,"y":1.3},
{"r":4,"c":6,"t":-500,"y":1.3},{"r":4,"c":6,"t":-380,"y":1.4},{"r":4,"c":6,"t":-260,"y":1.8},{"r":4,"c":6,"t":-160,"y":1.3},{"r":4,"c":6,"t":-90,"y":3.3},{"r":4,"c":6,"t":-40,"y":3.4},{"r":4,"c":6,"t":0,"y":3.2},{"r":4,"c":6,"t":40,"y":1.4},{"r":4,"c":6,"t":90,"y":1.2},{"r":4,"c":6,"t":160,"y":1.3},{"r":4,"c":6,"t":260,"y":1.4},{"r":4,"c":6,"t":380,"y":1.3},{"r":4,"c":6,"t":500,"y":1.4},
{"r":5,"c":1,"t":-500,"y":1.1},{"r":5,"c":1,"t":-380,"y":1.2},{"r":5,"c":1,"t":-260,"y":1.3},{"r":5,"c":1,"t":-160,"y":1.2},{"r":5,"c":1,"t":-90,"y":1.4},{"r":5,"c":1,"t":-40,"y":1.6},{"r":5,"c":1,"t":0,"y":2.0},{"r":5,"c":1,"t":40,"y":1.7},{"r":5,"c":1,"t":90,"y":1.3},{"r":5,"c":1,"t":160,"y":1.2},{"r":5,"c":1,"t":260,"y":1.6},{"r":5,"c":1,"t":380,"y":2.0},{"r":5,"c":1,"t":500,"y":1.3},
{"r":5,"c":2,"t":-500,"y":1.2},{"r":5,"c":2,"t":-380,"y":1.3},{"r":5,"c":2,"t":-260,"y":1.8},{"r":5,"c":2,"t":-160,"y":1.3},{"r":5,"c":2,"t":-90,"y":1.6},{"r":5,"c":2,"t":-40,"y":2.3},{"r":5,"c":2,"t":0,"y":4.7},{"r":5,"c":2,"t":40,"y":2.5},{"r":5,"c":2,"t":90,"y":1.6},{"r":5,"c":2,"t":160,"y":1.4},{"r":5,"c":2,"t":260,"y":2.0},{"r":5,"c":2,"t":380,"y":1.3},{"r":5,"c":2,"t":500,"y":1.2},
{"r":5,"c":3,"t":-500,"y":1.2},{"r":5,"c":3,"t":-380,"y":1.4},{"r":5,"c":3,"t":-260,"y":1.3},{"r":5,"c":3,"t":-160,"y":1.5},{"r":5,"c":3,"t":-90,"y":1.8},{"r":5,"c":3,"t":-40,"y":2.5},{"r":5,"c":3,"t":0,"y":5.7},{"r":5,"c":3,"t":40,"y":2.3},{"r":5,"c":3,"t":90,"y":1.3},{"r":5,"c":3,"t":160,"y":1.4},{"r":5,"c":3,"t":260,"y":1.3},{"r":5,"c":3,"t":380,"y":1.2},{"r":5,"c":3,"t":500,"y":1.4},
{"r":5,"c":4,"t":-500,"y":1.6},{"r":5,"c":4,"t":-380,"y":1.4},{"r":5,"c":4,"t":-260,"y":1.3},{"r":5,"c":4,"t":-160,"y":1.0},{"r":5,"c":4,"t":-90,"y":1.5},{"r":5,"c":4,"t":-40,"y":1.7},{"r":5,"c":4,"t":0,"y":2.1},{"r":5,"c":4,"t":40,"y":2.8},{"r":5,"c":4,"t":90,"y":2.2},{"r":5,"c":4,"t":160,"y":1.6},{"r":5,"c":4,"t":260,"y":1.8},{"r":5,"c":4,"t":380,"y":1.5},{"r":5,"c":4,"t":500,"y":1.4},
{"r":5,"c":6,"t":-500,"y":1.2},{"r":5,"c":6,"t":-380,"y":1.4},{"r":5,"c":6,"t":-260,"y":1.7},{"r":5,"c":6,"t":-160,"y":2.0},{"r":5,"c":6,"t":-90,"y":1.3},{"r":5,"c":6,"t":-40,"y":2.8},{"r":5,"c":6,"t":0,"y":9.9},{"r":5,"c":6,"t":40,"y":2.7},{"r":5,"c":6,"t":90,"y":1.3},{"r":5,"c":6,"t":160,"y":1.2},{"r":5,"c":6,"t":260,"y":1.4},{"r":5,"c":6,"t":380,"y":1.2},{"r":5,"c":6,"t":500,"y":1.3},
{"r":6,"c":1,"t":-500,"y":1.0},{"r":6,"c":1,"t":-380,"y":1.1},{"r":6,"c":1,"t":-260,"y":1.0},{"r":6,"c":1,"t":-160,"y":1.1},{"r":6,"c":1,"t":-90,"y":1.2},{"r":6,"c":1,"t":-40,"y":1.3},{"r":6,"c":1,"t":0,"y":1.5},{"r":6,"c":1,"t":40,"y":1.3},{"r":6,"c":1,"t":90,"y":1.2},{"r":6,"c":1,"t":160,"y":1.1},{"r":6,"c":1,"t":260,"y":1.0},{"r":6,"c":1,"t":380,"y":1.2},{"r":6,"c":1,"t":500,"y":1.0},
{"r":6,"c":2,"t":-500,"y":1.1},{"r":6,"c":2,"t":-380,"y":1.2},{"r":6,"c":2,"t":-260,"y":1.4},{"r":6,"c":2,"t":-160,"y":1.2},{"r":6,"c":2,"t":-90,"y":1.5},{"r":6,"c":2,"t":-40,"y":2.2},{"r":6,"c":2,"t":0,"y":3.8},{"r":6,"c":2,"t":40,"y":2.0},{"r":6,"c":2,"t":90,"y":1.4},{"r":6,"c":2,"t":160,"y":1.2},{"r":6,"c":2,"t":260,"y":1.3},{"r":6,"c":2,"t":380,"y":1.2},{"r":6,"c":2,"t":500,"y":1.1},
{"r":6,"c":3,"t":-500,"y":1.2},{"r":6,"c":3,"t":-380,"y":1.1},{"r":6,"c":3,"t":-260,"y":1.3},{"r":6,"c":3,"t":-160,"y":1.4},{"r":6,"c":3,"t":-90,"y":1.6},{"r":6,"c":3,"t":-40,"y":2.2},{"r":6,"c":3,"t":0,"y":4.4},{"r":6,"c":3,"t":40,"y":2.1},{"r":6,"c":3,"t":90,"y":1.4},{"r":6,"c":3,"t":160,"y":1.3},{"r":6,"c":3,"t":260,"y":1.2},{"r":6,"c":3,"t":380,"y":1.4},{"r":6,"c":3,"t":500,"y":1.2},
{"r":6,"c":4,"t":-500,"y":1.3},{"r":6,"c":4,"t":-380,"y":1.2},{"r":6,"c":4,"t":-260,"y":1.4},{"r":6,"c":4,"t":-160,"y":1.3},{"r":6,"c":4,"t":-90,"y":1.2},{"r":6,"c":4,"t":-40,"y":1.5},{"r":6,"c":4,"t":0,"y":3.0},{"r":6,"c":4,"t":40,"y":3.1},{"r":6,"c":4,"t":90,"y":2.8},{"r":6,"c":4,"t":160,"y":1.4},{"r":6,"c":4,"t":260,"y":1.3},{"r":6,"c":4,"t":380,"y":1.2},{"r":6,"c":4,"t":500,"y":1.3},
{"r":6,"c":5,"t":-500,"y":1.2},{"r":6,"c":5,"t":-380,"y":1.3},{"r":6,"c":5,"t":-260,"y":1.2},{"r":6,"c":5,"t":-160,"y":1.4},{"r":6,"c":5,"t":-90,"y":1.6},{"r":6,"c":5,"t":-40,"y":2.5},{"r":6,"c":5,"t":0,"y":8.8},{"r":6,"c":5,"t":40,"y":2.4},{"r":6,"c":5,"t":90,"y":1.4},{"r":6,"c":5,"t":160,"y":1.2},{"r":6,"c":5,"t":260,"y":1.3},{"r":6,"c":5,"t":380,"y":1.2},{"r":6,"c":5,"t":500,"y":1.2}
]
},
"concat":[
{"vconcat":[
 {"width":143,"height":14,"data":{"values":[{"label":"Spike data 1"}]},"mark":{"type":"text","fontSize":18,"color":"#111"},"encoding":{"text":{"field":"label","type":"nominal"}}},
 {"width":143,"height":113,"data":{"name":"a1"},
  "title":{"text":"A1","anchor":"start","frame":"bounds","fontSize":21,"offset":4},
  "mark":{"type":"line","color":"#222","strokeWidth":1.7},
  "encoding":{
   "x":{"field":"t","type":"quantitative","scale":{"domain":[-500,500],"nice":false},"axis":{"values":[-500,0,500],"title":"Time (ms)","ticks":false,"grid":false,"domainColor":"#999","labelFont":"Liberation Sans Narrow","labelFontSize":10,"labelColor":"#222","labelPadding":4,"titleFontSize":14,"titleFontWeight":"normal","titleColor":"#111","titlePadding":7,"labelFlush":false}},
   "y":{"field":"y","type":"quantitative","scale":{"domain":[-4.6,40.4],"nice":false,"zero":false},"axis":{"values":[0,10,20,30,40],"title":"Firing rate (Hz)","ticks":false,"grid":false,"domainColor":"#999","labelFont":"Liberation Sans Narrow","labelFontSize":10,"labelColor":"#222","labelPadding":4,"titleFontSize":14,"titleFontWeight":"normal","titleColor":"#111","titlePadding":14.5}}
  }}
 ],"spacing":60.1},
{"data":{"name":"b1"},
 "title":{"text":"B1","anchor":"start","frame":"bounds","fontSize":20,"offset":-6,"dx":-1},
 "bounds":"flush",
 "facet":{
  "row":{"field":"r","type":"ordinal","header":{"title":null,"labelAngle":-90,"labelFontSize":14,"labelPadding":3.5}},
  "column":{"field":"c","type":"ordinal","header":{"title":null,"labelFontSize":14,"labelPadding":4.4}}},
 "spacing":{"row":12.4,"column":14},
 "spec":{"width":46,"height":35,
  "layer":[
   {"transform":[{"filter":"datum.t==-500"}],"mark":{"type":"rule","color":"#999","strokeWidth":1},"encoding":{"x":{"field":"t","type":"quantitative","axis":null}}},
   {"transform":[{"filter":"datum.t==-500"}],"mark":{"type":"rule","color":"#999","strokeWidth":1},"encoding":{"y":{"datum":0,"type":"quantitative","axis":null}}},
   {"mark":{"type":"line","color":"#111","strokeWidth":1.8},
    "encoding":{"x":{"field":"t","type":"quantitative","scale":{"domain":[-500,500],"nice":false},"axis":null},
                "y":{"field":"y","type":"quantitative","scale":{"domain":[0,10],"nice":false},"axis":null}}}
  ]}},
{"vconcat":[
 {"width":143,"height":81,"data":{"values":[{"label":"Spike data 2"}]},"mark":{"type":"text","fontSize":18,"color":"#111"},"encoding":{"text":{"field":"label","type":"nominal"}}},
 {"width":143,"height":113,"data":{"name":"a2"},
  "title":{"text":"A2","anchor":"start","frame":"bounds","fontSize":21,"offset":17},
  "mark":{"type":"line","color":"#222","strokeWidth":1.7},
  "encoding":{
   "x":{"field":"t","type":"quantitative","scale":{"domain":[-500,500],"nice":false},"axis":{"values":[-500,0,500],"title":"Time (ms)","ticks":false,"grid":false,"domainColor":"#999","labelFont":"Liberation Sans Narrow","labelFontSize":10,"labelColor":"#222","labelPadding":4,"titleFontSize":14,"titleFontWeight":"normal","titleColor":"#111","titlePadding":6,"labelFlush":false}},
   "y":{"field":"y","type":"quantitative","scale":{"domain":[-4.5,40.4],"nice":false,"zero":false},"axis":{"values":[0,10,20,30,40],"title":"Firing rate (Hz)","ticks":false,"grid":false,"domainColor":"#999","labelFont":"Liberation Sans Narrow","labelFontSize":10,"labelColor":"#222","labelPadding":4,"titleFontSize":14,"titleFontWeight":"normal","titleColor":"#111","titlePadding":14.5}}
  }}
 ],"spacing":5},
{"data":{"name":"b2"},
 "title":{"text":"B2","anchor":"start","frame":"bounds","fontSize":20,"offset":-3.8,"dx":-8},
 "bounds":"flush",
 "facet":{
  "row":{"field":"r","type":"ordinal","header":{"title":null,"labelAngle":-90,"labelFontSize":14,"labelPadding":1}},
  "column":{"field":"c","type":"ordinal","header":{"title":null,"labelFontSize":14,"labelPadding":0.6}}},
 "spacing":{"row":15.5,"column":17.3},
 "spec":{"width":53,"height":40,
  "layer":[
   {"transform":[{"filter":"datum.t==-500"}],"mark":{"type":"rule","color":"#999","strokeWidth":1},"encoding":{"x":{"field":"t","type":"quantitative","axis":null}}},
   {"transform":[{"filter":"datum.t==-500"}],"mark":{"type":"rule","color":"#999","strokeWidth":1},"encoding":{"y":{"datum":0,"type":"quantitative","axis":null}}},
   {"mark":{"type":"line","color":"#111","strokeWidth":1.8},
    "encoding":{"x":{"field":"t","type":"quantitative","scale":{"domain":[-500,500],"nice":false},"axis":null},
                "y":{"field":"y","type":"quantitative","scale":{"domain":[0,10],"nice":false},"axis":null}}}
  ]}}
],
"columns":2,
"align":"none",
"bounds":"full",
"spacing":{"row":17.5,"column":29.3}
}
